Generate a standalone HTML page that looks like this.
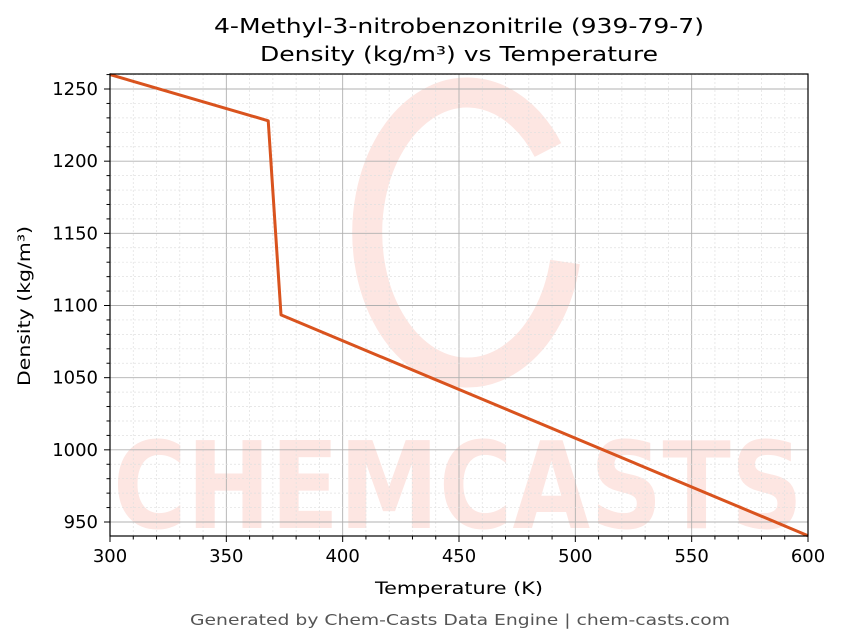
<!DOCTYPE html>
<html><head><meta charset="utf-8"><style>body{margin:0;background:#fff}svg{display:block;font-family:"DejaVu Sans","Liberation Sans",sans-serif}</style></head>
<body>
<svg id="c" width="843" height="644">
<g id="wm">
<path d="M548,150 A100,140 0 1 0 565,262" fill="none" stroke="#fde6e2" stroke-width="30"/>
<text x="458" y="528" text-anchor="middle" font-size="120" font-weight="bold" fill="#fde6e2" textLength="690" lengthAdjust="spacingAndGlyphs">CHEMCASTS</text>
</g>
<g id="grid"></g><g id="axes"></g>
<text x="459" y="33" text-anchor="middle" font-size="20" textLength="490" lengthAdjust="spacingAndGlyphs">4-Methyl-3-nitrobenzonitrile (939-79-7)</text>
<text x="459" y="61" text-anchor="middle" font-size="20" textLength="398" lengthAdjust="spacingAndGlyphs">Density (kg/m³) vs Temperature</text>
<text x="459" y="594" text-anchor="middle" font-size="17" textLength="168" lengthAdjust="spacingAndGlyphs">Temperature (K)</text>
<text transform="translate(30,306) rotate(-90)" text-anchor="middle" font-size="17" textLength="160" lengthAdjust="spacingAndGlyphs">Density (kg/m³)</text>
<text x="460" y="625" text-anchor="middle" font-size="15" fill="#555" textLength="540" lengthAdjust="spacingAndGlyphs">Generated by Chem-Casts Data Engine | chem-casts.com</text>
</svg>
<script>
const temps=[300,368,373.5,600];
const dens=[1260,1228,1093.5,940.5];
const xTicks=[300,350,400,450,500,550,600];
const yTicks=[950,1000,1050,1100,1150,1200,1250];
const L=110,R=808,T=74,B=536,x0=300,x1=600,y0=940.3,y1=1260.4;
const sx=v=>L+(v-x0)/(x1-x0)*(R-L);
const sy=v=>B-(v-y0)/(y1-y0)*(B-T);
const NS="http://www.w3.org/2000/svg";
function mk(p,t,a){const e=document.createElementNS(NS,t);for(const k in a)e.setAttribute(k,a[k]);p.appendChild(e);return e;}
const g=document.getElementById('grid'),ax=document.getElementById('axes');
for(let v=300;v<=600;v+=10){const X=sx(v);const major=v%50===0;
const l=mk(g,'line',{x1:X,x2:X,y1:T,y2:B,stroke:major?'#b0b0b0':'#e0e0e0','stroke-width':major?0.9:0.7,'stroke-dasharray':major?'':'2,2'});


mk(ax,'line',{x1:X,x2:X,y1:B,y2:B+(major?6:3.5),stroke:'#000','stroke-width':1});}
for(let v=950;v<=1260;v+=10){const Y=sy(v);const major=v%50===0;
const l=mk(g,'line',{x1:L,x2:R,y1:Y,y2:Y,stroke:major?'#b0b0b0':'#e0e0e0','stroke-width':major?0.9:0.7,'stroke-dasharray':major?'':'2,2'});


mk(ax,'line',{x1:L,x2:L-(major?6:3.5),y1:Y,y2:Y,stroke:'#000','stroke-width':1});}
xTicks.forEach(v=>{const t=mk(ax,'text',{x:sx(v),y:B+26,'text-anchor':'middle','font-size':18});t.textContent=v;

});
yTicks.forEach(v=>{const t=mk(ax,'text',{x:L-12,y:sy(v)+6,'text-anchor':'end','font-size':18});t.textContent=v;

});
const line=mk(ax,'polyline',{points:temps.map((t,i)=>sx(t)+','+sy(dens[i])).join(' '),fill:'none',stroke:'#d9531e','stroke-width':3,'stroke-linejoin':'round'});


const f=mk(ax,'rect',{x:L,y:T,width:R-L,height:B-T,fill:'none',stroke:'#000','stroke-width':1.2});


</script>
</body></html>
